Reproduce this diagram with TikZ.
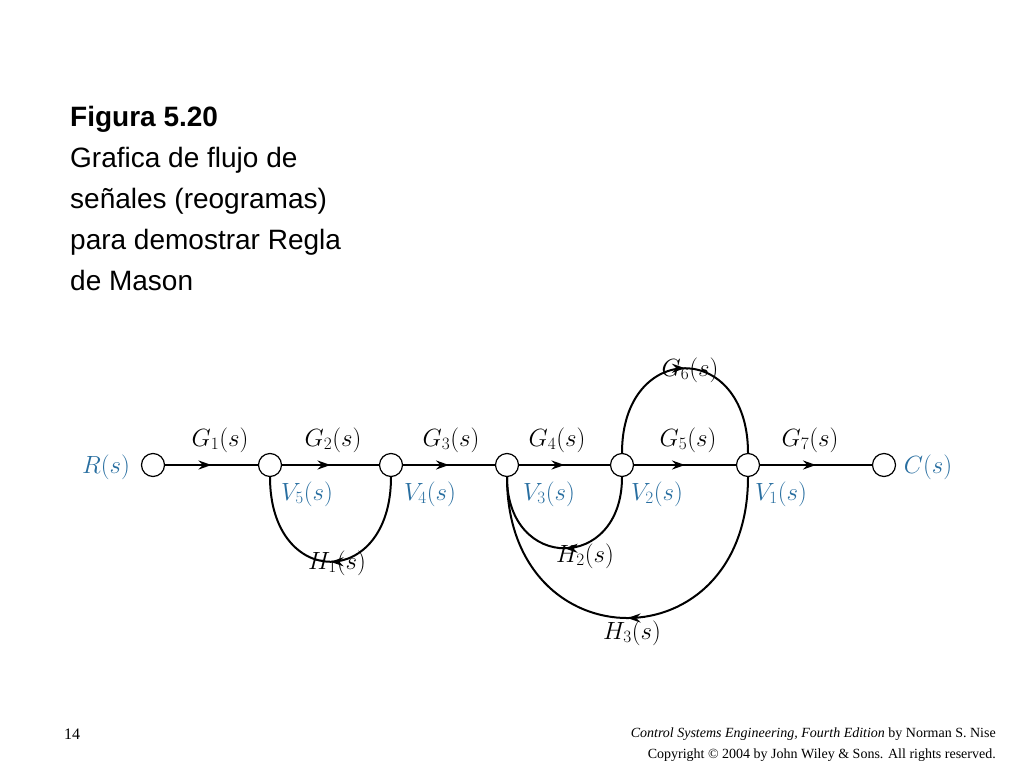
\documentclass[tikz,border=0pt]{standalone}
\usepackage{fontspec}
\setmainfont{Liberation Serif}
\newfontfamily\helv{Liberation Sans}
\usetikzlibrary{decorations.markings,arrows.meta}
\definecolor{vblue}{RGB}{40,110,160}
\begin{document}
\begin{tikzpicture}[x=1pt,y=-1pt,
  sig/.style={circle,draw,line width=1.2pt,minimum size=23pt,inner sep=0pt,fill=white},
  br/.style={line width=2pt,postaction={decorate},decoration={markings,mark=at position 0.5 with {\arrow{Stealth[length=13pt,width=9pt]}}}},
  lab/.style={font=\fontsize{24}{28}\selectfont},
  vlab/.style={font=\fontsize{24}{28}\selectfont,text=vblue}]
\useasboundingbox (0,0) rectangle (1024,768);
\node[anchor=north west,align=left,font=\helv\fontsize{28}{41}\selectfont,inner sep=0pt] (title) at (70,106)
 {\textbf{Figura 5.20}\\Grafica de flujo de\\señales (reogramas)\\para demostrar Regla\\de Mason};
\node[sig] (r) at (153,465) {};
\node[sig] (v5) at (270,465) {};
\node[sig] (v4) at (391,465) {};
\node[sig] (v3) at (507,465) {};
\node[sig] (v2) at (622,465) {};
\node[sig] (v1) at (748,465) {};
\node[sig] (c) at (884,465) {};
\draw[br] (r) -- (v5);
\draw[br] (v5) -- (v4);
\draw[br] (v4) -- (v3);
\draw[br] (v3) -- (v2);
\draw[br] (v2) -- (v1);
\draw[br] (v1) -- (c);
\draw[br] (v4.south) .. controls (391,590) and (270,590) .. (v5.south);
\draw[br] (v2.south) .. controls (622,572) and (507,572) .. (v3.south);
\draw[br] (v1.south) .. controls (748,665) and (507,665) .. (v3.south);
\draw[br] (v2.north) .. controls (622,340) and (748,340) .. (v1.north);
\node[lab] (g1) at (220,440) {$G_1(s)$};
\node[lab] (g2) at (333,440) {$G_2(s)$};
\node[lab] (g3) at (451,440) {$G_3(s)$};
\node[lab] (g4) at (557,440) {$G_4(s)$};
\node[lab] (g5) at (688,440) {$G_5(s)$};
\node[lab] (g6) at (690,370) {$G_6(s)$};
\node[lab] (g7) at (810,440) {$G_7(s)$};
\node[lab] (h1) at (337,563) {$H_1(s)$};
\node[lab] (h2) at (585,556) {$H_2(s)$};
\node[lab] (h3) at (632,633) {$H_3(s)$};
\node[vlab] (lv5) at (307,494) {$V_5(s)$};
\node[vlab] (lv4) at (430,494) {$V_4(s)$};
\node[vlab] (lv3) at (549,494) {$V_3(s)$};
\node[vlab] (lv2) at (657,494) {$V_2(s)$};
\node[vlab] (lv1) at (781,494) {$V_1(s)$};
\node[vlab] (lr) at (106,467) {$R(s)$};
\node[vlab] (lc) at (928,467) {$C(s)$};
\node[font=\fontsize{16}{18}\selectfont] (pg) at (72,734) {14};
\node[anchor=east,font=\fontsize{14}{18}\selectfont,inner sep=0pt] (f1) at (996,734) {\textit{Control Systems Engineering, Fourth Edition} by Norman S. Nise};
\node[anchor=east,font=\fontsize{14}{18}\selectfont,inner sep=0pt] (f2) at (996,755) {Copyright © 2004 by John Wiley \& Sons. All rights reserved.};
\end{tikzpicture}
\end{document}
